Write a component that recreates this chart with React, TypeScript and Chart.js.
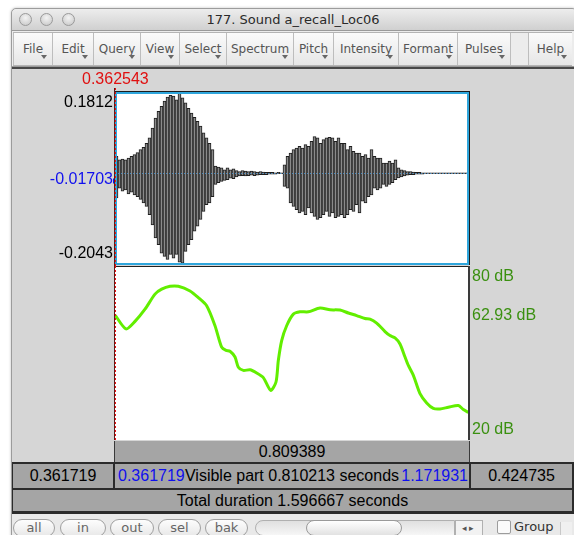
import React, { useEffect, useRef } from "react";
import { Chart, registerables } from "chart.js";

Chart.register(...registerables);

// ---------- data ----------
const visibleStart = 0.361719;
const visibleEnd = 1.171931;
const cursorTime = 0.362543;
const cursorTimeLabel = "0.362543";

const waveTop = 0.1812;
const waveBottom = -0.2043;
const waveTickValues = [0.1812, -0.01703, -0.2043];
const waveTickLabels = ["0.1812", "-0.01703", "-0.2043"];

// waveform envelope, one entry per ~3 px column of the visible window
const waveMax = [
  0.038, 0.030, 0.032, 0.030, 0.034, 0.038, 0.042, 0.046, 0.053, 0.058,
  0.067, 0.079, 0.101, 0.123, 0.138, 0.149, 0.161, 0.170, 0.174, 0.172,
  0.164, 0.181, 0.168, 0.157, 0.145, 0.134, 0.125, 0.116, 0.105, 0.090,
  0.079, 0.067, 0.053, 0.016, 0.014, 0.012, 0.008, 0.012, 0.008, 0.010,
  0.006, 0.004, 0.006, 0.005, 0.004, 0.005, 0.004, 0.003, 0.004, 0.003,
  0.002, 0.002, 0.002, 0.001, 0.002, 0.001, 0.019, 0.038, 0.045, 0.053,
  0.056, 0.060, 0.056, 0.064, 0.060, 0.071, 0.082, 0.079, 0.067, 0.075,
  0.079, 0.080, 0.079, 0.071, 0.079, 0.067, 0.067, 0.053, 0.060, 0.049,
  0.045, 0.045, 0.038, 0.042, 0.034, 0.053, 0.038, 0.034, 0.034, 0.023,
  0.023, 0.027, 0.023, 0.030, 0.012, 0.008, 0.006, 0.004, 0.004, 0.003,
  0.002, 0.002, 0.001, 0.001, 0.001, 0.001, 0.001, 0.001, 0.001, 0.001,
  0.001, 0.001, 0.001, 0.001, 0.001, 0.001, 0.001, 0.001,
];
const waveMin = [
  -0.055, -0.033, -0.040, -0.037, -0.046, -0.042, -0.048, -0.052, -0.058, -0.066,
  -0.074, -0.092, -0.115, -0.144, -0.159, -0.178, -0.185, -0.192, -0.181, -0.189,
  -0.181, -0.198, -0.200, -0.174, -0.159, -0.148, -0.129, -0.118, -0.103, -0.085,
  -0.070, -0.066, -0.052, -0.025, -0.021, -0.018, -0.016, -0.014, -0.011, -0.012,
  -0.008, -0.006, -0.005, -0.006, -0.005, -0.004, -0.005, -0.004, -0.003, -0.003,
  -0.003, -0.002, -0.002, -0.002, -0.001, -0.001, -0.029, -0.033, -0.066, -0.074,
  -0.081, -0.088, -0.085, -0.092, -0.077, -0.088, -0.096, -0.103, -0.099, -0.092,
  -0.085, -0.096, -0.088, -0.099, -0.096, -0.092, -0.099, -0.092, -0.081, -0.085,
  -0.070, -0.088, -0.062, -0.066, -0.052, -0.048, -0.033, -0.037, -0.033, -0.025,
  -0.029, -0.025, -0.021, -0.014, -0.010, -0.008, -0.006, -0.004, -0.003, -0.003,
  -0.002, -0.002, -0.002, -0.001, -0.001, -0.001, -0.001, -0.001, -0.001, -0.001,
  -0.001, -0.001, -0.001, -0.001, -0.001, -0.001, -0.001, -0.001,
];

const intensityTimes = [
  0.3625, 0.3869, 0.4075, 0.4304, 0.4533, 0.4685, 0.4876, 0.5067, 0.5334, 0.5524,
  0.5715, 0.5906, 0.6058, 0.6158, 0.6249, 0.6364, 0.6440, 0.6554, 0.6707, 0.6860,
  0.7012, 0.7180, 0.7302, 0.7355, 0.7432, 0.7546, 0.7699, 0.7851, 0.8042, 0.8309,
  0.8538, 0.8767, 0.8958, 0.9148, 0.9339, 0.9453, 0.9606, 0.9797, 0.9911, 1.0026,
  1.0140, 1.0255, 1.0331, 1.0446, 1.0598, 1.0751, 1.0903, 1.1056, 1.1247, 1.1475,
  1.1590, 1.1704,
];
const intensityDb = [
  62.93, 58.3, 60.9, 65.1, 70.3, 72.0, 73.0, 73.0, 71.4, 69.1,
  66.3, 59.4, 52.0, 50.9, 50.6, 48.6, 45.1, 44.0, 44.2, 43.1,
  41.5, 37.1, 40.0, 47.4, 54.3, 59.4, 63.4, 64.2, 64.2, 65.5,
  64.9, 64.8, 63.8, 62.9, 61.9, 61.7, 60.3, 57.4, 56.0, 55.2,
  53.1, 48.6, 45.7, 42.3, 36.0, 32.8, 30.9, 30.7, 31.3, 31.9,
  30.5, 29.5,
];
const dbMin = 20;
const dbMax = 80;
const dbTickValues = [80, 62.93, 20];
const dbTickLabels = ["80 dB", "62.93 dB", "20 dB"];

const windowTitle = "177. Sound a_recall_Loc06";
const menuItems = ["File", "Edit", "Query", "View", "Select", "Spectrum", "Pitch", "Intensity", "Formant", "Pulses"];
const helpItem = "Help";
const selectionDuration = "0.809389";
const leftOutside = "0.361719";
const visibleStartLabel = "0.361719";
const visibleText = "Visible part 0.810213 seconds";
const visibleEndLabel = "1.171931";
const rightOutside = "0.424735";
const totalText = "Total duration 1.596667 seconds";
const navButtons = ["all", "in", "out", "sel", "bak"];
const groupLabel = "Group";

// ---------- layout (positions only) ----------
const menuLefts = [13, 53, 94, 141, 180, 227, 294, 334, 399, 458, 511];
const navLefts = [13, 60, 110, 158, 205];
const navWidths = [42, 46, 44, 43, 43];

const FONT = "'Liberation Sans', Arial, Helvetica, sans-serif";
const UIFONT = "'DejaVu Sans', 'Noto Sans', sans-serif";
const NUMSIZE = 16;

function drawCursor(chart: any, fromY: number, toY: number) {
  const ctx = chart.ctx;
  const x = Math.round(chart.scales.x.getPixelForValue(cursorTime)) + 0.5;
  ctx.save();
  ctx.lineWidth = 1;
  ctx.strokeStyle = "#5a1a1a";
  ctx.beginPath();
  ctx.moveTo(x - 1, fromY);
  ctx.lineTo(x - 1, toY);
  ctx.stroke();
  ctx.strokeStyle = "#ee1111";
  ctx.setLineDash([2, 2]);
  ctx.beginPath();
  ctx.moveTo(x, fromY);
  ctx.lineTo(x, toY);
  ctx.stroke();
  ctx.restore();
}

const wavePlugin = {
  id: "wavePanel",
  beforeDraw(chart: any) {
    const { ctx, chartArea: a } = chart;
    ctx.save();
    ctx.fillStyle = "#ffffff";
    ctx.fillRect(a.left, a.top, a.right - a.left, a.bottom - a.top);
    ctx.restore();
  },
  afterDatasetsDraw(chart: any) {
    const { ctx, chartArea: a, scales } = chart;
    ctx.save();
    // dotted zero line
    const y0 = Math.round(scales.y.getPixelForValue(0)) + 0.5;
    ctx.strokeStyle = "#3f86c0";
    ctx.lineWidth = 1;
    ctx.setLineDash([1, 2]);
    ctx.beginPath();
    ctx.moveTo(a.left, y0);
    ctx.lineTo(a.right, y0);
    ctx.stroke();
    ctx.setLineDash([]);
    // panel border
    ctx.strokeStyle = "#2fa6dc";
    ctx.lineWidth = 2;
    ctx.strokeRect(a.left + 1, a.top + 1, a.right - a.left - 2, a.bottom - a.top - 2);
    ctx.fillStyle = "#1c1c1c";
    ctx.fillRect(a.left, a.top - 1, a.right - a.left + 1, 1);
    ctx.fillRect(a.right, a.top - 1, 1, a.bottom - a.top + 1);
    // y labels
    ctx.font = NUMSIZE + "px " + FONT;
    ctx.textAlign = "right";
    const colors = ["#000000", "#1010ee", "#000000"];
    waveTickValues.forEach((v, i) => {
      const py = scales.y.getPixelForValue(v);
      let y = py;
      if (i === 0) { ctx.textBaseline = "top"; y = py + 3; }
      else if (i === 2) { ctx.textBaseline = "bottom"; y = py - 3; }
      else { ctx.textBaseline = "middle"; y = py - 1; }
      ctx.fillStyle = colors[i];
      ctx.fillText(waveTickLabels[i], a.left - 2, y);
    });
    // cursor value marker
    const yc = scales.y.getPixelForValue(waveTickValues[1]);
    ctx.fillStyle = "#1010ee";
    ctx.beginPath();
    ctx.moveTo(a.left - 2, yc - 3);
    ctx.lineTo(a.left + 1, yc);
    ctx.lineTo(a.left - 2, yc + 3);
    ctx.fill();
    // cursor time label
    ctx.textAlign = "center";
    ctx.textBaseline = "middle";
    ctx.fillStyle = "#e01010";
    ctx.fillText(cursorTimeLabel, scales.x.getPixelForValue(cursorTime), a.top - 12);
    ctx.restore();
    drawCursor(chart, a.top - 4, chart.height);
  },
};

const intensityPlugin = {
  id: "intensityPanel",
  beforeDraw(chart: any) {
    const { ctx, chartArea: a } = chart;
    ctx.save();
    ctx.fillStyle = "#ffffff";
    ctx.fillRect(a.left, a.top, a.right - a.left, a.bottom - a.top);
    ctx.restore();
  },
  afterDatasetsDraw(chart: any) {
    const { ctx, chartArea: a, scales } = chart;
    ctx.save();
    ctx.fillStyle = "#222222";
    ctx.fillRect(a.left, a.top, a.right - a.left + 1, 1);
    ctx.fillStyle = "#3a3a3a";
    ctx.fillRect(a.right - 1, a.top, 2, a.bottom - a.top);
    ctx.font = NUMSIZE + "px " + FONT;
    ctx.textAlign = "left";
    ctx.fillStyle = "#3a9010";
    dbTickValues.forEach((v, i) => {
      const py = scales.y.getPixelForValue(v);
      let y = py;
      if (i === 0) { ctx.textBaseline = "top"; y = py + 3; }
      else if (i === dbTickValues.length - 1) { ctx.textBaseline = "bottom"; y = py - 2; }
      else { ctx.textBaseline = "middle"; }
      ctx.fillText(dbTickLabels[i], a.right + 3, y);
    });
    ctx.restore();
    drawCursor(chart, 0, a.bottom);
  },
};

const abs = (l: number, t: number, w: number, h: number, extra: any = {}) => ({
  position: "absolute" as const,
  left: l,
  top: t,
  width: w,
  height: h,
  boxSizing: "border-box" as const,
  ...extra,
});

function GrayCell(props: { l: number; t: number; w: number; h: number; children?: any }) {
  return (
    <div
      style={abs(props.l, props.t, props.w, props.h, {
        background: "#a5a5a5",
        display: "flex",
        alignItems: "center",
        justifyContent: "center",
        fontFamily: FONT,
        fontSize: NUMSIZE,
        color: "#000",
        whiteSpace: "nowrap",
        overflow: "hidden",
      })}
    >
      {props.children}
    </div>
  );
}

export default function App() {
  const waveRef = useRef<HTMLCanvasElement>(null);
  const intRef = useRef<HTMLCanvasElement>(null);

  useEffect(() => {
    document.body.style.margin = "0";
    const binWidth = (visibleEnd - visibleStart) / waveMax.length;
    const wave = new Chart(waveRef.current as HTMLCanvasElement, {
      type: "bar",
      data: {
        datasets: [
          {
            data: waveMax.map((mx, i) => ({
              x: visibleStart + (i + 0.5) * binWidth,
              y: [waveMin[i], mx],
            })) as any,
            backgroundColor: "#8a8a8a",
            borderColor: "#1e1e1e",
            borderWidth: 1,
            borderSkipped: false,
            categoryPercentage: 1,
            barPercentage: 1,
          },
        ],
      },
      options: {
        animation: false,
        responsive: false,
        events: [],
        layout: { padding: { left: 103, right: 103, top: 22, bottom: 1 } },
        plugins: { legend: { display: false }, tooltip: { enabled: false } },
        scales: {
          x: { type: "linear", min: visibleStart, max: visibleEnd, display: false, offset: false },
          y: { min: waveBottom, max: waveTop, display: false },
        },
      },
      plugins: [wavePlugin],
    });

    const inten = new Chart(intRef.current as HTMLCanvasElement, {
      type: "line",
      data: {
        datasets: [
          {
            data: intensityTimes.map((t, i) => ({ x: t, y: intensityDb[i] })),
            borderColor: "#62ee00",
            borderWidth: 3,
            pointRadius: 0,
            tension: 0.25,
            fill: false,
          },
        ],
      },
      options: {
        animation: false,
        responsive: false,
        events: [],
        layout: { padding: { left: 103, right: 103, top: 0, bottom: 1 } },
        plugins: { legend: { display: false }, tooltip: { enabled: false } },
        scales: {
          x: { type: "linear", min: visibleStart, max: visibleEnd, display: false },
          y: { min: dbMin, max: dbMax, display: false },
        },
      },
      plugins: [intensityPlugin],
    });

    return () => {
      wave.destroy();
      inten.destroy();
    };
  }, []);

  return (
    <div
      style={{
        position: "fixed",
        left: 0,
        top: 0,
        width: 574,
        height: 535,
        background: "#ffffff",
        overflow: "hidden",
        fontFamily: FONT,
      }}
    >
      {/* window frame */}
      <div
        style={abs(11, 8, 566, 540, {
          background: "#e8e8e8",
          borderRadius: "5px 5px 0 0",
          border: "1px solid #9c9c9c",
          boxShadow: "0 0 3px rgba(0,0,0,0.25)",
        })}
      />
      {/* title bar */}
      <div
        style={abs(12, 9, 564, 22, {
          background: "linear-gradient(#ededed, #d0d0d0)",
          borderRadius: "5px 5px 0 0",
          borderBottom: "1px solid #9a9a9a",
        })}
      />
      {[25, 46, 68].map((cx, i) => (
        <div
          key={i}
          style={abs(cx - 6, 13, 13, 13, {
            borderRadius: "50%",
            background: "radial-gradient(circle at 50% 35%, #f4f4f4, #c4c4c4)",
            border: "1px solid #9a9a9a",
          })}
        />
      ))}
      <div
        style={abs(12, 10, 562, 20, {
          textAlign: "center",
          fontFamily: UIFONT,
          fontSize: 13,
          lineHeight: "20px",
          color: "#2a2a2a",
        })}
      >
        {windowTitle}
      </div>

      {/* menu bar */}
      <div style={abs(12, 31, 564, 35, { background: "#ececec" })} />
      <div style={abs(13, 32, 559, 34, { borderTop: "1px solid #b4b4b4", borderBottom: "1px solid #b4b4b4" })} />
      {menuItems.map((m, i) => {
        const l = menuLefts[i];
        const w = menuLefts[i + 1] - l;
        return (
          <div
            key={m}
            style={abs(l, 33, w, 32, {
              background: "linear-gradient(#fbfbfb, #e6e6e6)",
              borderRight: "1px solid #bdbdbd",
              borderLeft: i === 0 ? "1px solid #bdbdbd" : "none",
            })}
          >
            <div
              style={{
                position: "absolute",
                left: 0,
                right: 0,
                top: 9,
                textAlign: "center",
                fontFamily: UIFONT,
                fontSize: 12,
                color: "#555",
              }}
            >
              {m}
            </div>
            <div
              style={{
                position: "absolute",
                right: 5,
                bottom: 6,
                width: 0,
                height: 0,
                borderLeft: "3px solid transparent",
                borderRight: "3px solid transparent",
                borderTop: "4px solid #666",
              }}
            />
          </div>
        );
      })}
      <div
        style={abs(528, 33, 44, 32, {
          background: "linear-gradient(#fbfbfb, #e6e6e6)",
          borderLeft: "1px solid #bdbdbd",
        })}
      >
        <div
          style={{
            position: "absolute",
            left: 0,
            right: 0,
            top: 9,
            textAlign: "center",
            fontFamily: UIFONT,
            fontSize: 12,
            color: "#555",
          }}
        >
          {helpItem}
        </div>
        <div
          style={{
            position: "absolute",
            right: 5,
            bottom: 6,
            width: 0,
            height: 0,
            borderLeft: "3px solid transparent",
            borderRight: "3px solid transparent",
            borderTop: "4px solid #666",
          }}
        />
      </div>
      <div style={abs(12, 66, 562, 1, { background: "#9a9a9a" })} />
      <div style={abs(12, 67, 562, 2, { background: "#474747" })} />

      {/* editor area */}
      <div style={abs(12, 69, 562, 445, { background: "#d6d6d6" })} />

      <canvas ref={waveRef} width={560} height={196} style={abs(12, 70, 560, 196)} />
      <canvas ref={intRef} width={560} height={175} style={abs(12, 266, 560, 175)} />

      {/* selection bar */}
      <div style={abs(114, 441, 356, 21, { background: "#3a3a3a" })} />
      <GrayCell l={115} t={441} w={354} h={21}>{selectionDuration}</GrayCell>

      {/* rows */}
      <div style={abs(12, 462, 562, 52, { background: "#2b2b2b" })} />
      <GrayCell l={13} t={464} w={100} h={24}>{leftOutside}</GrayCell>
      <GrayCell l={115} t={464} w={354} h={24}>
        <span style={{ position: "absolute", left: 3, color: "#1010ee" }}>{visibleStartLabel}</span>
        <span>{visibleText}</span>
        <span style={{ position: "absolute", right: 1, color: "#1010ee" }}>{visibleEndLabel}</span>
      </GrayCell>
      <GrayCell l={471} t={464} w={101} h={24}>{rightOutside}</GrayCell>
      <GrayCell l={13} t={490} w={559} h={21}>{totalText}</GrayCell>

      {/* bottom control bar */}
      <div style={abs(12, 514, 562, 25, { background: "#e9e9e9" })} />
      {navButtons.map((b, i) => (
        <div
          key={b}
          style={abs(navLefts[i], 519, navWidths[i], 18, {
            border: "1px solid #a0a0a0",
            borderRadius: 9,
            background: "linear-gradient(#fdfdfd, #e8e8e8)",
            textAlign: "center",
            fontFamily: UIFONT,
            fontSize: 13,
            lineHeight: "16px",
            color: "#666",
          })}
        >
          {b}
        </div>
      ))}
      {/* scrollbar */}
      <div
        style={abs(255, 520, 200, 16, {
          border: "1px solid #b0b0b0",
          borderRadius: "8px 0 0 8px",
          background: "linear-gradient(#e0e0e0, #f6f6f6)",
        })}
      />
      <div
        style={abs(306, 520, 96, 16, {
          border: "1px solid #9a9a9a",
          borderRadius: 8,
          background: "linear-gradient(#ffffff, #e2e2e2)",
        })}
      />
      <div
        style={abs(455, 520, 28, 16, {
          border: "1px solid #b0b0b0",
          background: "#f2f2f2",
          fontSize: 9,
          color: "#555",
          lineHeight: "14px",
          textAlign: "center",
          letterSpacing: 2,
        })}
      >
        ◂▸
      </div>
      <div style={abs(497, 520, 14, 14, { border: "1px solid #9c9c9c", background: "#fafafa", borderRadius: 2 })} />
      <div style={abs(514, 518, 44, 18, { fontFamily: UIFONT, fontSize: 13, color: "#333", lineHeight: "18px" })}>
        {groupLabel}
      </div>
      <div style={abs(560, 522, 12, 14, { borderLeft: "1px solid #c8c8c8", background: "#f0f0f0" })} />
    </div>
  );
}
